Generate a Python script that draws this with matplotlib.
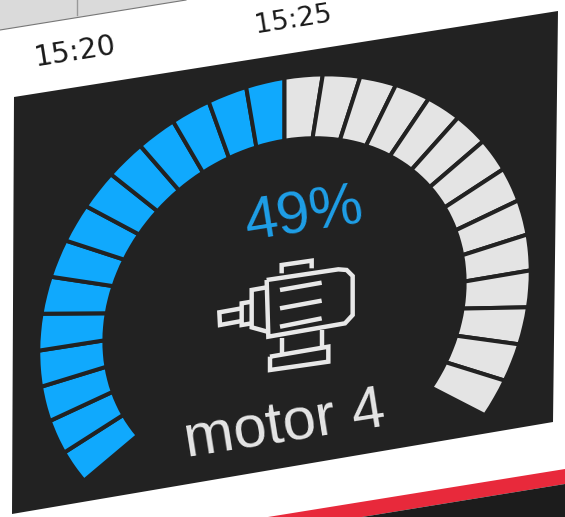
import matplotlib
matplotlib.use('Agg')
import matplotlib.pyplot as plt
from matplotlib.patches import Polygon, Wedge
from matplotlib.transforms import Affine2D

# gauge values
percent = 49
segment_count = 28
gauge_label = 'motor 4'
time_labels = ['15:20', '15:25']

DARK = '#222222'
BLUE = '#10A9FD'
GRAY = '#E4E4E4'

fig = plt.figure(figsize=(5.65, 5.17), dpi=100)
ax = fig.add_axes([0, 0, 1, 1])
ax.set_xlim(0, 565)
ax.set_ylim(517, 0)
ax.axis('off')

# background pieces of the photographed screen
ax.add_patch(Polygon([(0, 0), (186, 0), (0, 30)], color='#DADADA', lw=0))
ax.plot([0, 186], [30, 0], color='#777777', lw=0.8)
ax.plot([77, 77], [0, 15], color='#999999', lw=1)
ax.add_patch(Polygon([(14, 97), (558, 11), (553, 422), (12, 514)], color=DARK, lw=0))
ax.add_patch(Polygon([(268, 517), (565, 469), (565, 484), (362, 517)], color='#E8293B', lw=0))
ax.add_patch(Polygon([(362, 517), (565, 484), (565, 517)], color='#1C1C1C', lw=0))

# unit circle -> picture, the screen is skewed
gauge_tf = Affine2D.from_values(245, -40, 0, -233, 284.5, 312) + ax.transData
sweep = 251.0
step = sweep / segment_count
filled = round(segment_count * percent / 100)
for i in range(segment_count):
    # angles run clockwise from the lower left end
    t1 = 90 + sweep / 2 - i * step
    t2 = t1 - step
    color = BLUE if i < filled else GRAY
    ax.add_patch(Wedge((0, 0), 1.005, t2, t1, width=0.27, facecolor=color,
                       edgecolor=DARK, lw=2.9, transform=gauge_tf))

# time labels above the panel
ax.text(75, 52, time_labels[0], fontsize=20.5, rotation=9, color='#1A1A1A',
        ha='center', va='center', family='DejaVu Sans')
ax.text(293, 20, time_labels[1], fontsize=19.5, rotation=9, color='#1A1A1A',
        ha='center', va='center', family='DejaVu Sans')

ax.text(304, 216, f'{percent}%', fontsize=43, rotation=9, color='#1E9FE8',
        ha='center', va='center', family='Liberation Sans', rotation_mode='anchor')
ax.text(285, 425, gauge_label, fontsize=43, rotation=9, color='#E6E6E6',
        ha='center', va='center', family='Liberation Sans', rotation_mode='anchor')

# motor icon, outlines given in a 3x crop of the icon area
icon_tf = Affine2D().scale(1 / 3).translate(200, 240) + ax.transData
icon_lines = [
    [(200, 120), (415, 88), (440, 90), (458, 108), (458, 225), (435, 250), (205, 290), (200, 120)],
    [(245, 100), (245, 75), (335, 62), (335, 85)],
    [(240, 150), (365, 128)],
    [(240, 205), (365, 182)],
    [(240, 260), (365, 235)],
    [(200, 142), (155, 150), (155, 262), (202, 275)],
    [(155, 185), (125, 190), (125, 255), (155, 250)],
    [(125, 205), (58, 217), (60, 255), (125, 243)],
    [(245, 295), (245, 345)],
    [(365, 270), (365, 320)],
    [(210, 350), (385, 320), (385, 365), (210, 390), (210, 350)],
]
for line in icon_lines:
    xs = [p[0] for p in line]
    ys = [p[1] for p in line]
    ax.plot(xs, ys, color='#E8E8E8', lw=3.2, transform=icon_tf,
            solid_capstyle='butt', solid_joinstyle='miter')

fig.savefig('out.png', dpi=100)
